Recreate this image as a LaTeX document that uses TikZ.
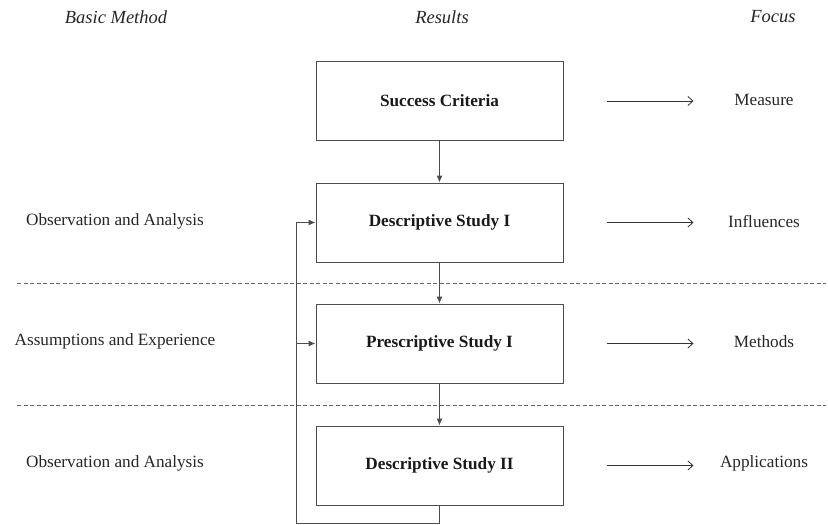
\documentclass[tikz,border=0pt]{standalone}
\usepackage{fontspec}
\setmainfont{Liberation Serif}
\usetikzlibrary{arrows.meta}

\begin{document}
\begin{tikzpicture}[x=1pt,y=-1pt]
  \useasboundingbox (0,0) rectangle (828,525);

  % Define styles for boxes, labels and lines
  \tikzset{
    stagebox/.style={draw=black!70, line width=1pt, minimum width=247pt, minimum height=79pt,
      font=\fontsize{17.2}{20}\selectfont\bfseries, text=black!90},
    plainlabel/.style={font=\fontsize{17.2}{20}\selectfont, text=black!85},
    headlabel/.style={font=\fontsize{18.5}{22}\selectfont\itshape, text=black!85},
    flowline/.style={draw=black!70, line width=1pt, -{Latex[length=7pt,width=6pt]}},
    focusline/.style={draw=black!80, line width=0.8pt, -{Straight Barb[length=5pt,width=9pt]}},
    splitline/.style={draw=black!60, line width=0.9pt, dash pattern=on 4pt off 2.5pt}
  }

  % Column headings
  \node[headlabel] (hmethod) at (116,17) {Basic Method};
  \node[headlabel] (hresult) at (442,17) {Results};
  \node[headlabel] (hfocus) at (773,17) {Focus};

  % Result boxes
  \node[stagebox] (crit) at (439.5,101) {Success Criteria};
  \node[stagebox] (desc1) at (439.5,222.5) {Descriptive Study I};
  \node[stagebox] (presc1) at (439.5,343.5) {Prescriptive Study I};
  \node[stagebox] (desc2) at (439.5,465.5) {Descriptive Study II};

  % Separators between the stages
  \draw[splitline] (17,283) -- (826,283);
  \draw[splitline] (17,405) -- (826,405);

  % Downward links
  \draw[flowline] (crit) -- (desc1);
  \draw[flowline] (desc1) -- (presc1);
  \draw[flowline] (presc1) -- (desc2);

  % Feedback loop
  \coordinate (back) at (296,523);
  \draw[flowline] (desc2.south) |- (back) |- (desc1.west);
  \draw[flowline] (back |- presc1.west) -- (presc1.west);

  % Basic method labels
  \node[plainlabel] (obs1) at (115,221) {Observation and Analysis};
  \node[plainlabel] (assum) at (115,341) {Assumptions and Experience};
  \node[plainlabel] (obs2) at (115,463) {Observation and Analysis};

  % Focus labels
  \node[plainlabel] (measure) at (764,100) {Measure};
  \node[plainlabel] (influ) at (764,222) {Influences};
  \node[plainlabel] (methods) at (764,342) {Methods};
  \node[plainlabel] (appl) at (764,463) {Applications};

  % Focus arrows
  \draw[focusline] ([xshift=43pt]crit.east) -- ++(87,0);
  \draw[focusline] ([xshift=43pt]desc1.east) -- ++(87,0);
  \draw[focusline] ([xshift=43pt]presc1.east) -- ++(87,0);
  \draw[focusline] ([xshift=43pt]desc2.east) -- ++(87,0);

\end{tikzpicture}
\end{document}
